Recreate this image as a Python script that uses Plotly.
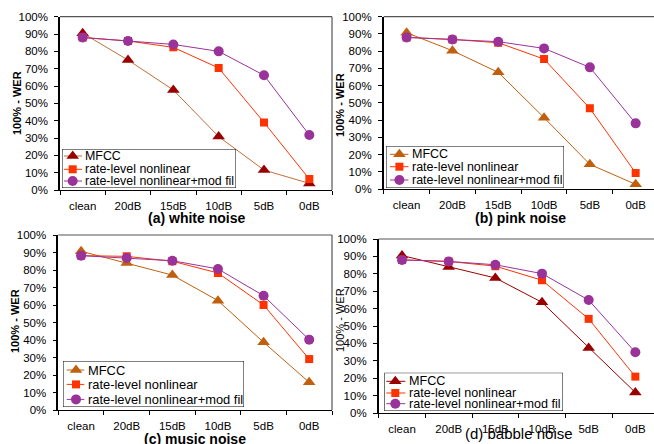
import plotly.graph_objects as go

# ---------------- data ----------------
categories = ["clean", "20dB", "15dB", "10dB", "5dB", "0dB"]
series_names = ["MFCC", "rate-level nonlinear", "rate-level nonlinear+mod fil"]

white_mfcc = [90.5, 75.0, 57.7, 30.8, 11.5, 3.8]
white_rate = [88.0, 86.0, 82.3, 70.4, 39.0, 6.3]
white_mod = [88.0, 86.0, 84.0, 80.0, 66.2, 31.7]

pink_mfcc = [90.7, 80.3, 67.7, 41.4, 14.3, 2.7]
pink_rate = [88.0, 86.8, 84.9, 75.4, 46.8, 9.3]
pink_mod = [88.0, 86.8, 85.5, 81.6, 70.6, 38.1]

music_mfcc = [90.7, 84.0, 77.1, 62.5, 38.7, 15.8]
music_rate = [88.2, 87.8, 85.0, 78.3, 60.0, 29.1]
music_mod = [88.2, 86.9, 85.3, 80.6, 65.3, 40.2]

babble_mfcc = [90.5, 83.9, 77.6, 63.6, 37.4, 11.8]
babble_rate = [88.0, 87.1, 84.4, 76.3, 54.1, 20.9]
babble_mod = [88.0, 87.1, 85.2, 80.1, 64.9, 34.9]

panel_titles = ["(a) white noise", "(b) pink noise", "(c) music noise", "(d) babble noise"]
y_title = "100% - WER"

# ---------------- layout helpers ----------------
W, H = 654, 444
FONT = "Arial, Liberation Sans, sans-serif"


def xd(l, r):
    return [max(0, l / W), min(1, r / W)]


def yd(top, bottom):
    return [(H - bottom) / H, (H - top) / H]


RATE_C = "#FF3300"
MOD_C = "#993399"

panels = [
    dict(data=(white_mfcc, white_rate, white_mod), x=(60, 332), y=(16.7, 190), xr=[-0.5, 5.5],
         mfcc_marker="#990000", mfcc_line="#C0703A", right=True,
         title=dict(x=196, y=218, size=14, bold=True),
         ytitle=dict(x=17, y=103, bold=True),
         legend=dict(box=(62, 236, 149, 188), rows=(7, 20.3, 32), line=(2, 20), mk=10.7, tx=21.3, fs=12.4)),
    dict(data=(pink_mfcc, pink_rate, pink_mod), x=(383.7, 654), y=(16.7, 189), xr=[-0.5, 5.4],
         mfcc_marker="#C0600E", mfcc_line="#C0600E", right=False,
         title=dict(x=520, y=218, size=14, bold=True),
         ytitle=dict(x=340, y=105, bold=True),
         legend=dict(box=(386, 564, 146, 188), rows=(8.3, 20.7, 34), line=(4, 22.4), mk=13.4, tx=24, fs=12.5)),
    dict(data=(music_mfcc, music_rate, music_mod), x=(58.3, 332), y=(235, 410), xr=[-0.5, 5.5],
         mfcc_marker="#C0600E", mfcc_line="#C0600E", right=True,
         title=dict(x=195, y=439, size=14, bold=True),
         ytitle=dict(x=15, y=321, bold=True),
         legend=dict(box=(63, 244, 361, 407), rows=(9, 23.4, 38.4), line=(3.7, 21.3), mk=13, tx=23, fs=12.9)),
    dict(data=(babble_mfcc, babble_rate, babble_mod), x=(378.7, 654), y=(239, 413), xr=[-0.5, 5.4],
         mfcc_marker="#990000", mfcc_line="#990000", right=False,
         title=dict(x=519, y=433, size=15, bold=False),
         ytitle=dict(x=340, y=320, bold=False),
         legend=dict(box=(384.3, 563, 372.7, 411), rows=(8.6, 20.3, 31), line=(2, 21), mk=11, tx=22.7, fs=12.6)),
]

fig = go.Figure()
layout = dict(
    width=W, height=H, margin=dict(l=0, r=0, t=0, b=0, pad=0, autoexpand=False),
    paper_bgcolor="white", plot_bgcolor="rgba(0,0,0,0)",
    showlegend=False, font=dict(family=FONT, color="black"),
)
shapes = []
annotations = []

for i, p in enumerate(panels):
    n = i + 1
    xa = "x" if n == 1 else f"x{n}"
    ya = "y" if n == 1 else f"y{n}"
    mfcc, rate, mod = p["data"]
    styles = [
        (mfcc, "triangle-up", 11, p["mfcc_marker"], p["mfcc_line"]),
        (rate, "square", 8, RATE_C, RATE_C),
        (mod, "circle", 10, MOD_C, MOD_C),
    ]
    for (vals, sym, sz, mc, lc), name in zip(styles, series_names):
        fig.add_trace(go.Scatter(
            x=categories, y=vals, name=name, mode="lines+markers",
            xaxis=xa, yaxis=ya,
            line=dict(color=lc, width=1),
            marker=dict(symbol=sym, size=sz, color=mc, line=dict(width=0)),
        ))
    layout[f"xaxis{'' if n == 1 else n}"] = dict(
        domain=xd(*p["x"]), anchor=ya, type="category", automargin=False,
        categoryorder="array", categoryarray=categories,
        range=p["xr"], tickson="boundaries", ticks="outside", ticklen=4,
        tickcolor="black", showline=True, linecolor="black", linewidth=1,
        showgrid=False, zeroline=False, tickfont=dict(size=11.5, family=FONT, color="black"),
        ticklabelstandoff=5,
    )
    layout[f"yaxis{'' if n == 1 else n}"] = dict(
        domain=yd(*p["y"]), anchor=xa, range=[0, 100], dtick=10, ticksuffix="%",
        automargin=False,
        ticks="outside", ticklen=4, tickcolor="black", showline=True,
        linecolor="black", linewidth=1.5, showgrid=False, zeroline=False,
        tickfont=dict(size=11.5, family=FONT, color="black"), ticklabelstandoff=4,
    )
    # frame lines (top, and right when visible)
    shapes.append(dict(type="line", xref=f"{xa} domain", yref=f"{ya} domain",
                       x0=0, x1=1, y0=1, y1=1, line=dict(color="#555555", width=1.2)))
    if p["right"]:
        shapes.append(dict(type="line", xref=f"{xa} domain", yref=f"{ya} domain",
                           x0=1, x1=1, y0=0, y1=1, line=dict(color="#555555", width=1.2)))
    # titles
    t = p["title"]
    txt = f"<b>{panel_titles[i]}</b>" if t["bold"] else panel_titles[i]
    annotations.append(dict(text=txt, x=t["x"] / W, y=(H - t["y"]) / H, xref="paper", yref="paper",
                            xanchor="center", yanchor="middle", showarrow=False,
                            font=dict(size=t["size"], family=FONT, color="black")))
    yt = p["ytitle"]
    ytxt = f"<b>{y_title}</b>" if yt["bold"] else y_title
    annotations.append(dict(text=ytxt, x=yt["x"] / W, y=(H - yt["y"]) / H, xref="paper", yref="paper",
                            xanchor="center", yanchor="middle", showarrow=False, textangle=-90,
                            font=dict(size=11, family=FONT, color="black")))

# ---------------- legends (overlay axes on top of each panel) ----------------
for i, p in enumerate(panels):
    n = 5 + i
    xa, ya = f"x{n}", f"y{n}"
    lg = p["legend"]
    l, r, t, b = lg["box"]
    w, h = r - l, b - t
    layout[f"xaxis{n}"] = dict(domain=xd(l, r), anchor=ya, range=[0, w], visible=False,
                               fixedrange=True, automargin=False)
    layout[f"yaxis{n}"] = dict(domain=yd(t, b), anchor=xa, range=[h, 0], visible=False,
                               fixedrange=True, automargin=False)
    fig.add_trace(go.Scatter(x=[0, w, w, 0, 0], y=[0, 0, h, h, 0], mode="lines", fill="toself",
                             fillcolor="white", line=dict(color="black", width=1),
                             xaxis=xa, yaxis=ya, hoverinfo="skip"))
    styles = [
        ("triangle-up", 11, p["mfcc_marker"], p["mfcc_line"]),
        ("square", 8, RATE_C, RATE_C),
        ("circle", 10, MOD_C, MOD_C),
    ]
    x0, x1 = lg["line"]
    for (sym, sz, mc, lc), ry, name in zip(styles, lg["rows"], series_names):
        fig.add_trace(go.Scatter(x=[x0, x1], y=[ry, ry], mode="lines", line=dict(color=lc, width=1),
                                 xaxis=xa, yaxis=ya, hoverinfo="skip"))
        fig.add_trace(go.Scatter(x=[lg["mk"]], y=[ry], mode="markers",
                                 marker=dict(symbol=sym, size=sz, color=mc, line=dict(width=0)),
                                 xaxis=xa, yaxis=ya, hoverinfo="skip"))
        annotations.append(dict(text=name, x=lg["tx"], y=ry, xref=xa, yref=ya, xanchor="left",
                                yanchor="middle", showarrow=False,
                                font=dict(size=lg["fs"], family=FONT, color="black")))

layout["shapes"] = shapes
layout["annotations"] = annotations
fig.update_layout(**layout)
fig.write_html(
    "out.html",
    config={"displayModeBar": False},
    post_script="document.body.style.margin='0';document.body.style.overflow='hidden';",
)
